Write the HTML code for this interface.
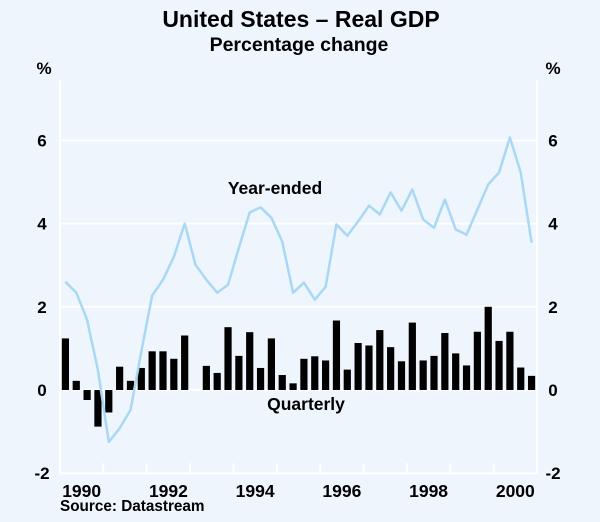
<!DOCTYPE html>
<html><head><meta charset="utf-8"><style>
html,body{margin:0;padding:0;background:#eef5fc;}
svg{display:block;font-family:"Liberation Sans",Arial,sans-serif;}
</style></head><body>
<svg id="c" width="600" height="522">
<rect x="0" y="0" width="600" height="522" fill="#eef5fc"/>
<text x="301" y="27" text-anchor="middle" font-size="23" font-weight="bold">United States – Real GDP</text>
<text x="299" y="51" text-anchor="middle" font-size="19.5" font-weight="bold">Percentage change</text>
<text x="44" y="74" text-anchor="middle" font-size="17" font-weight="bold">%</text>
<text x="553" y="74" text-anchor="middle" font-size="17" font-weight="bold">%</text>
<g id="grid"></g>
<g id="bars"></g>
<g id="line"></g>
<g id="axes"></g>
<text x="275" y="194" text-anchor="middle" font-size="17.5" font-weight="bold">Year-ended</text>
<text x="306" y="410" text-anchor="middle" font-size="17.5" font-weight="bold">Quarterly</text>
<text x="60" y="511" font-size="15.3" font-weight="bold">Source: Datastream</text>
</svg>
<script>
const quarterly=[1.24,0.22,-0.24,-0.88,-0.54,0.56,0.22,0.53,0.93,0.93,0.75,1.31,0,0.58,0.41,1.51,0.82,1.39,0.53,1.24,0.36,0.16,0.75,0.81,0.71,1.67,0.49,1.13,1.07,1.44,1.03,0.69,1.62,0.71,0.82,1.37,0.88,0.59,1.40,2.0,1.18,1.40,0.54,0.34];
const yearEnded=[2.6,2.34,1.69,0.48,-1.25,-0.92,-0.48,0.92,2.27,2.65,3.2,4.0,3.01,2.65,2.34,2.53,3.42,4.27,4.39,4.14,3.57,2.34,2.58,2.17,2.48,3.98,3.71,4.05,4.43,4.22,4.75,4.31,4.82,4.1,3.9,4.58,3.86,3.73,4.34,4.94,5.23,6.07,5.23,3.54];
const yTicks=[-2,0,2,4,6];
const xYears=[1990,1992,1994,1996,1998,2000];
const startYear=1990, endYear=2001;
const L=60,R=537,Y0=390,PU=41.6;
const NS='http://www.w3.org/2000/svg';
function sx(t){return L+(t-startYear)/(endYear-startYear)*(R-L);}
function sy(v){return Y0-v*PU;}
function mk(tag,attrs,parent){const e=document.createElementNS(NS,tag);for(const k in attrs)e.setAttribute(k,attrs[k]);document.getElementById(parent).appendChild(e);return e;}
yTicks.forEach(v=>{
  if(v>-2){const g=mk('line',{x1:L,x2:R,y1:sy(v),y2:sy(v),stroke:'#ffffff','stroke-width':2},'grid');
  
  }
  const a=mk('text',{x:42,y:sy(v)+6,'text-anchor':'middle','font-size':17,'font-weight':'bold'},'axes');a.textContent=v;
  
  
  const b=mk('text',{x:553,y:sy(v)+6,'text-anchor':'middle','font-size':17,'font-weight':'bold'},'axes');b.textContent=v;
  
  
});
const bl=mk('line',{x1:L,x2:R,y1:sy(-2),y2:sy(-2),stroke:'#ffffff','stroke-width':2},'grid');


[L,R].forEach(x=>{const v=mk('line',{x1:x,x2:x,y1:sy(6)-60,y2:sy(-2),stroke:'#ffffff','stroke-width':2},'grid');

});
for(let y=startYear+1;y<endYear;y++){const t=mk('line',{x1:sx(y),x2:sx(y),y1:sy(-2),y2:sy(-2)-10,stroke:'#ffffff','stroke-width':2},'grid');

}
xYears.forEach(y=>{const t=mk('text',{x:sx(y+0.5),y:sy(-2)+24,'text-anchor':'middle','font-size':17.5,'font-weight':'bold'},'axes');t.textContent=y;

});
const qw=(R-L)/((endYear-startYear)*4);
quarterly.forEach((v,i)=>{const c=L+qw*(i+0.5);const y1=sy(Math.max(v,0)),y2=sy(Math.min(v,0));
const r=mk('rect',{x:c-3.6,y:y1,width:7.2,height:Math.max(y2-y1,0),fill:'#000'},'bars');

});
const pts=yearEnded.map((v,i)=>(L+qw*(i+0.5)).toFixed(1)+','+sy(v).toFixed(1)).join(' ');
const pl=mk('polyline',{points:pts,fill:'none',stroke:'#a9d8f5','stroke-width':2.5,'stroke-linejoin':'round'},'line');


</script>
</body></html>
